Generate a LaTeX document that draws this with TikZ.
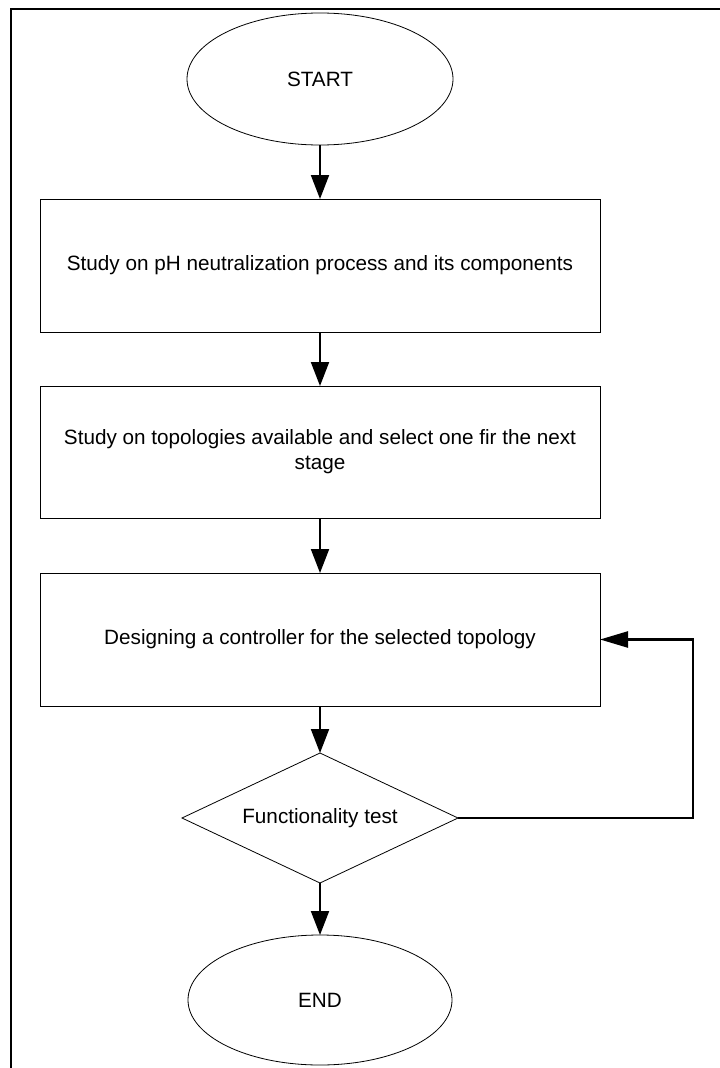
\documentclass[tikz,border=0pt]{standalone}
\usepackage{fontspec}
\setmainfont{Liberation Sans}
\usetikzlibrary{shapes.geometric,arrows.meta}
\begin{document}
\begin{tikzpicture}[x=1pt,y=-1pt,
  every node/.style={font=\fontsize{20.7}{25}\selectfont},
  term/.style={draw,ellipse,inner sep=0pt,outer sep=0pt,line width=0.8pt},
  stepbox/.style={draw,rectangle,minimum width=560pt,inner sep=0pt,outer sep=0pt,line width=0.8pt,align=center},
  decide/.style={draw,diamond,aspect=2.123,minimum width=276pt,minimum height=130pt,inner sep=0pt,outer sep=0pt,line width=0.8pt},
  arr/.style={line width=2pt,-{Triangle[length=24pt,width=18pt]}},
  loopline/.style={line width=2.4pt,-{Triangle[length=28pt,width=16pt]}}]
\useasboundingbox (0,0) rectangle (720,1068);
% frame
\coordinate (ftr) at (720,9);
\coordinate (ftl) at (11,9);
\coordinate (fbl) at (11,1068);
\draw[line width=1.5pt] (ftr) -- (ftl) -- (fbl);
% nodes
\node[term,minimum width=266pt,minimum height=132pt] (start) at (320,79) {START};
\node[stepbox,minimum height=133pt] (b1) at (320,265.5) {Study on pH neutralization process and its components};
\node[stepbox,minimum height=132pt] (b2) at (320,452) {Study on topologies available and select one fir the next\\stage};
\node[stepbox,minimum height=133pt] (b3) at (320,639.5) {Designing a controller for the selected topology};
\node[decide] (dia) at (320,818) {Functionality test};
\node[term,minimum width=264pt,minimum height=130pt] (end) at (320,1000) {END};
% connectors
\draw[arr] (start) -- (b1);
\draw[arr] (b1) -- (b2);
\draw[arr] (b2) -- (b3);
\draw[arr] (b3) -- (dia);
\draw[arr] (dia) -- (end);
\coordinate (lp) at (693,820);
\draw[loopline] (dia.east) -- (dia.east -| lp) |- (b3.east);
\end{tikzpicture}
\end{document}
